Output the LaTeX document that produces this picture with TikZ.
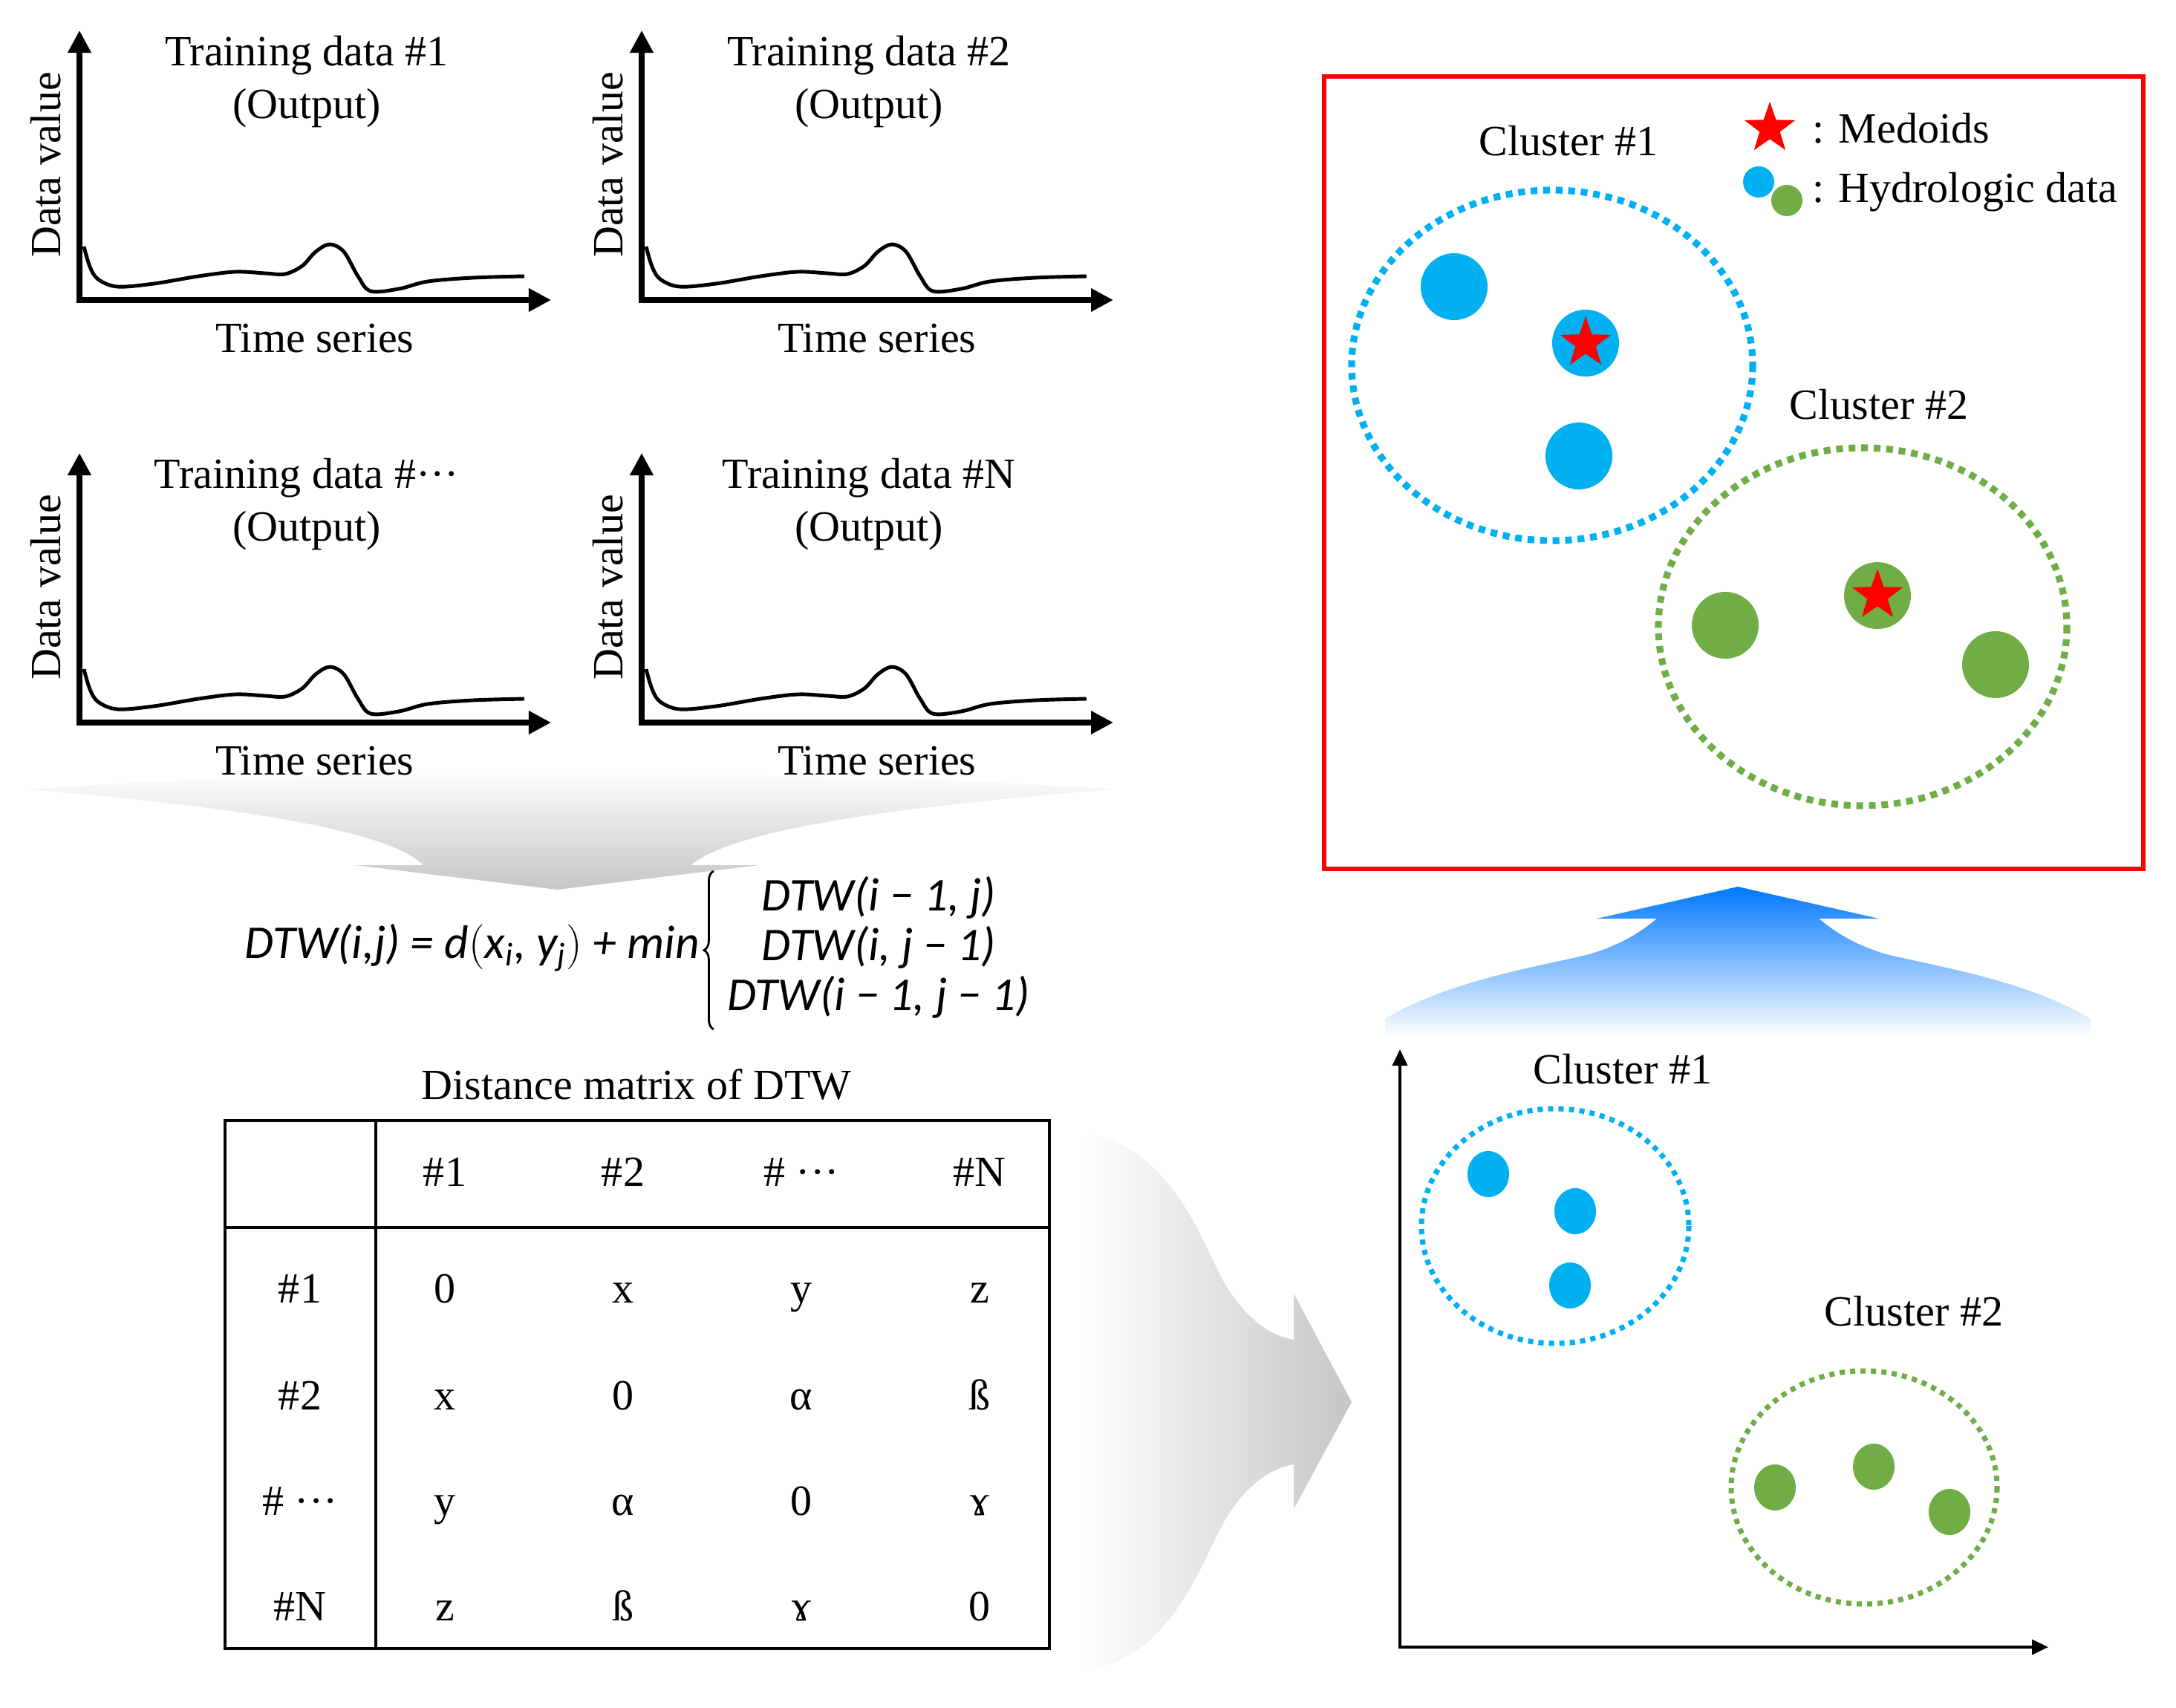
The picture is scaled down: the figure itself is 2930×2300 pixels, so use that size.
\documentclass[tikz,border=0pt]{standalone}
\usepackage{fontspec}
\setmainfont{Liberation Serif}
\newfontfamily\dtwfont{Carlito}
\usetikzlibrary{arrows.meta,shapes.geometric,decorations.pathreplacing}
\definecolor{clblue}{HTML}{00B0F0}
\definecolor{clgreen}{HTML}{70AD47}
\definecolor{upblue}{RGB}{0,120,255}
\definecolor{midblue}{RGB}{80,180,255}

\begin{document}
\begin{tikzpicture}[x=0.01cm,y=-0.01cm,
  txt/.style={font=\fontsize{16.5}{20}\selectfont, inner sep=1pt},
  cell/.style={txt, text height=11.5pt, text depth=3.5pt},
  eqtxt/.style={font=\dtwfont\itshape\fontsize{18}{19}\selectfont, inner sep=0pt},
  axisline/.style={line width=2pt, {Triangle[length=0.3cm,width=0.3cm]}-{Triangle[length=0.3cm,width=0.3cm]}},
  plotaxis/.style={line width=1.1pt, {Triangle[length=0.22cm,width=0.2cm]}-{Triangle[length=0.22cm,width=0.2cm]}},
  bigdots/.style={line width=2.6pt, dash pattern=on 2.6pt off 2.2pt},
  smalldots/.style={line width=2pt, dash pattern=on 2pt off 2pt},
  medoid/.style={star, star points=5, star point ratio=2.5, fill=red, draw=none, minimum size=0.72cm, inner sep=0pt}]
\useasboundingbox (0,0) rectangle (2930,2300);

\shade[top color=white, bottom color=gray!45] (37,1063) .. controls (300,1085) and (520,1115) .. (570,1165) -- (478,1165) -- (750,1198) -- (1022,1165) -- (930,1165) .. controls (990,1115) and (1220,1085) .. (1500,1063) .. controls (1100,1035) and (400,1035) .. cycle;

% training data
\foreach \cx/\cy/\k/\lbl in {107/404/1/1, 864/404/2/2, 107/973/3/···, 864/973/4/N}{
\begin{scope}[shift={(\cx,\cy)}]
\draw[axisline] (0,-363) -- (0,0) -- (635,0);
\draw[line width=1.4pt] plot[smooth,tension=0.55] coordinates {(6,-72) (14,-45) (25,-28) (51,-18) (100,-22) (160,-32) (210,-38) (250,-36) (277,-35) (300,-46) (318,-65) (337,-75) (356,-65) (375,-32) (392,-12) (430,-15) (469,-25) (530,-30) (599,-32)};
\node[txt] (ttl\k) at (306,-329) {Training data \#\lbl};
\node[txt] (out\k) at (306,-258) {(Output)};
\node[txt] (ts\k) at (317,52) {Time series};
\node[txt,rotate=90] (dv\k) at (-45,-182) {Data value};
\end{scope}
}

\node[eqtxt, anchor=west] (dtw) at (329,1276) {DTW(i,j) = d$\big($x\textsubscript{i}, y\textsubscript{j}$\big)$ + min};
\node[eqtxt, align=center] (cases) at (1183,1276) {DTW(i − 1, j)\\DTW(i, j − 1)\\DTW(i − 1, j − 1)};
\draw[line width=0.8pt, decorate, decoration={brace, amplitude=0.13cm}] ([xshift=-5pt,yshift=-4pt]cases.south west) -- ([xshift=-5pt,yshift=2pt]cases.north west);

% distance matrix
\node[txt] (mtitle) at (857,1460) {Distance matrix of DTW};
\draw[line width=1.4pt] (303,1509) rectangle (1413,2220);
\draw[line width=1.4pt] (506,1509) -- (506,2220);
\draw[line width=1.4pt] (303,1653) -- (1413,1653);
\foreach \x/\h [count=\c] in {599/\#1, 839/\#2, 1079/\# ···, 1319/\#N}
  \node[cell] (h\c) at (\x,1583) {\h};
\foreach \y/\r/\a/\b/\c/\d [count=\i] in {1740/\#1/0/x/y/z, 1884/\#2/x/0/α/ß, 2026/\# ···/y/α/0/ɤ, 2168/\#N/z/ß/ɤ/0}{
  \node[cell] (r\i) at (404,\y) {\r};
  \node[cell] (m\i1) at (599,\y) {\a};
  \node[cell] (m\i2) at (839,\y) {\b};
  \node[cell] (m\i3) at (1079,\y) {\c};
  \node[cell] (m\i4) at (1319,\y) {\d};
}

\shade[left color=white, right color=gray!45] (1457,1526) .. controls (1580,1540) and (1620,1680) .. (1650,1730) .. controls (1680,1780) and (1715,1800) .. (1742,1804) -- (1742,1742) -- (1820,1888) -- (1742,2032) -- (1742,1972) .. controls (1715,1976) and (1680,1996) .. (1650,2046) .. controls (1620,2096) and (1580,2236) .. (1457,2250) -- cycle;

% scatter of clusters
\draw[plotaxis] (1885,1413) -- (1885,2218) -- (2758,2218);
\node[txt] (sc1) at (2185,1440) {Cluster \#1};
\node[txt] (sc2) at (2577,1766) {Cluster \#2};
\draw[clblue,smalldots] (2094,1651) ellipse [x radius=180, y radius=158];
\draw[clgreen,smalldots] (2510,2003) ellipse [x radius=179, y radius=157];
\foreach \px/\py in {2004/1581, 2121/1631, 2114/1731}
  \fill[clblue] (\px,\py) ellipse [x radius=28, y radius=31];
\foreach \px/\py in {2390/2003, 2523/1975, 2625/2036}
  \fill[clgreen] (\px,\py) ellipse [x radius=28, y radius=31];

\shade[top color=upblue, middle color=midblue, bottom color=white] (1865,1395) -- (1865,1372) .. controls (1950,1320) and (2080,1300) .. (2140,1285) .. controls (2190,1270) and (2215,1250) .. (2231,1237) -- (2150,1237) -- (2340,1194) -- (2530,1237) -- (2449,1237) .. controls (2465,1250) and (2490,1270) .. (2540,1285) .. controls (2600,1300) and (2730,1320) .. (2815,1372) -- (2815,1395) -- cycle;

% medoids
\draw[red,line width=1.7pt] (1783,103) rectangle (2886,1170);
\node[txt] (kc1) at (2112,190) {Cluster \#1};
\node[txt] (kc2) at (2530,545) {Cluster \#2};
\draw[clblue,bigdots] (2090,492) ellipse [x radius=270, y radius=236];
\draw[clgreen,bigdots] (2508,844) ellipse [x radius=275, y radius=241];
\fill[clblue] (1958,386) circle (45);
\fill[clblue] (2135,462) circle (45);
\fill[clblue] (2126,614) circle (45);
\fill[clgreen] (2323,842) circle (45);
\fill[clgreen] (2528,802) circle (45);
\fill[clgreen] (2687,895) circle (45);
\node[medoid] (md1) at (2135,462) {};
\node[medoid] (md2) at (2528,802) {};
\node[medoid] (lgstar) at (2383,173) {};
\fill[clblue] (2368,245) circle (21);
\fill[clgreen] (2406,270) circle (21);
\node[txt,anchor=west] (lgmed) at (2436,173) {: Medoids};
\node[txt,anchor=west] (lghyd) at (2436,259) {: Hydrologic data};
\end{tikzpicture}
\end{document}
